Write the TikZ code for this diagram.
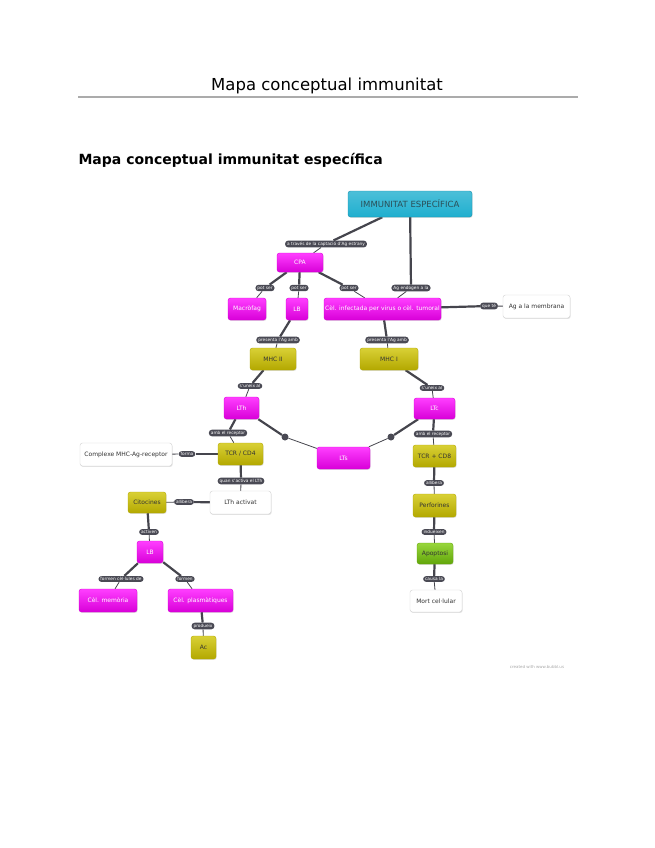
\documentclass[tikz,border=0pt]{standalone}
\usepackage{fontspec}
\setmainfont{DejaVu Sans}
\usetikzlibrary{backgrounds,shadows}
\definecolor{mapink}{HTML}{333333}
\definecolor{maprule}{HTML}{ABABAB}
\definecolor{mapline}{HTML}{45454D}
\definecolor{mappill}{HTML}{4A4A54}
\definecolor{mapcyan}{HTML}{1FAFCF}
\definecolor{mapcyandk}{HTML}{1690AD}
\definecolor{maprosa}{HTML}{FF1CFF}
\definecolor{maprosadk}{HTML}{D800D8}
\definecolor{mapgroc}{HTML}{D2C812}
\definecolor{mapgrocdk}{HTML}{B3A800}
\definecolor{mapverd}{HTML}{86CF1A}
\definecolor{mapverddk}{HTML}{62A60A}
\newcommand{\enllac}[3]{%
  \draw[mapline, line width=2.2pt] (#1) -- (#2);
  \draw[mapline, line width=0.8pt] (#2) -- (#3);
}
\tikzset{
  caixa/.style={rounded corners=2.5pt, inner sep=1pt, line width=0.4pt,
    font=\fontsize{6}{7}\selectfont,
    drop shadow={opacity=0.25, shadow xshift=0.6pt, shadow yshift=-0.9pt}},
  blau/.style={caixa, draw=mapcyandk, top color=mapcyan!80!white, bottom color=mapcyan,
    text=mapink!70!mapcyandk, font=\fontsize{8.5}{10}\selectfont},
  rosa/.style={caixa, draw=maprosadk, top color=maprosa!85!white, bottom color=maprosadk, text=white},
  groc/.style={caixa, draw=mapgrocdk, top color=mapgroc!85!white, bottom color=mapgrocdk, text=mapink},
  verd/.style={caixa, draw=mapverddk, top color=mapverd!85!white, bottom color=mapverddk, text=mapink},
  blanc/.style={caixa, draw=black!18, fill=white, text=mapink},
  etiqueta/.style={rounded corners=3pt, fill=mappill, text=white, inner xsep=2pt,
    inner ysep=1.2pt, font=\fontsize{4.3}{5}\selectfont},
  punt/.style={circle, fill=mappill, inner sep=0pt, minimum size=7pt},
}
\begin{document}
\begin{tikzpicture}[x=1pt, y=-1pt]
  \useasboundingbox (0,0) rectangle (655,848);

  % capcalera
  \node[text=black, font=\fontsize{16.5}{19}\selectfont] (titol) at (327,86) {Mapa conceptual immunitat};
  \draw[maprule, line width=2pt] (78,97) -- (578,97);
  \node[text=black, anchor=west, font=\fontsize{14}{16}\selectfont\bfseries] (apartat) at (75,160) {Mapa conceptual immunitat específica};

  % caixes
  \node[blau, minimum width=124pt, minimum height=26pt] (imm) at (410,204) {IMMUNITAT ESPECÍFICA};
  \node[rosa, minimum width=46pt, minimum height=19pt] (cpa) at (300,262.5) {CPA};
  \node[rosa, minimum width=38pt, minimum height=22pt] (macro) at (247,309) {Macròfag};
  \node[rosa, minimum width=22pt, minimum height=22pt] (lbu) at (297,309) {LB};
  \node[rosa, minimum width=117pt, minimum height=22pt] (celinf) at (382.5,309) {Cèl. infectada per virus o cèl. tumoral};
  \node[blanc, minimum width=67pt, minimum height=23pt] (agmem) at (536.5,306.5) {Ag a la membrana};
  \node[groc, minimum width=46pt, minimum height=22pt] (mhcdos) at (273,359) {MHC II};
  \node[groc, minimum width=58pt, minimum height=22pt] (mhcu) at (389,359) {MHC I};
  \node[rosa, minimum width=35pt, minimum height=22pt] (lth) at (241.5,408) {LTh};
  \node[rosa, minimum width=41pt, minimum height=21pt] (ltc) at (434.5,408.5) {LTc};
  \node[groc, minimum width=45pt, minimum height=22pt] (tcrq) at (240.5,454) {TCR / CD4};
  \node[blanc, minimum width=92pt, minimum height=23pt] (complexe) at (126,454.5) {Complexe MHC-Ag-receptor};
  \node[blanc, minimum width=61pt, minimum height=23pt] (lthact) at (240.5,502.5) {LTh activat};
  \node[groc, minimum width=38pt, minimum height=21pt] (cito) at (147,502.5) {Citocines};
  \node[rosa, minimum width=26pt, minimum height=22pt] (lbd) at (150,552) {LB};
  \node[rosa, minimum width=58pt, minimum height=23pt] (celmem) at (108,600.5) {Cèl. memòria};
  \node[rosa, minimum width=65pt, minimum height=23pt] (celpla) at (200.5,600.5) {Cèl. plasmàtiques};
  \node[groc, minimum width=25pt, minimum height=23pt] (ac) at (203.5,647.5) {Ac};
  \node[rosa, minimum width=53pt, minimum height=22pt] (lts) at (343.5,458) {LTs};
  \node[groc, minimum width=43pt, minimum height=22pt] (tcrv) at (434.5,456) {TCR + CD8};
  \node[groc, minimum width=43pt, minimum height=23pt] (perf) at (434.5,505.5) {Perforines};
  \node[verd, minimum width=36pt, minimum height=21pt] (apop) at (435,553.5) {Apoptosi};
  \node[blanc, minimum width=52pt, minimum height=22pt] (mort) at (436,601) {Mort cel·lular};

  % etiquetes
  \node[etiqueta] (eaa) at (326,244) {a través de la captació d'Ag estrany};
  \node[etiqueta] (eab) at (265,288) {pot ser};
  \node[etiqueta] (eac) at (299,288) {pot ser};
  \node[etiqueta] (ead) at (349,288) {pot ser};
  \node[etiqueta] (eae) at (411,288) {Ag endogen a la};
  \node[etiqueta] (eaf) at (489,306) {que té};
  \node[etiqueta] (eag) at (278,340) {presenta l'Ag amb};
  \node[etiqueta] (eah) at (387,340) {presenta l'Ag amb};
  \node[etiqueta] (eai) at (250,386) {s'uneix al};
  \node[etiqueta] (eaj) at (432,388) {s'uneix al};
  \node[etiqueta] (eak) at (228,433) {amb el receptor};
  \node[etiqueta] (eal) at (187,454) {forma};
  \node[etiqueta] (eam) at (241,481) {quan s'activa el LTh};
  \node[etiqueta] (ean) at (184,502) {allibera};
  \node[etiqueta] (eao) at (149,532) {activen};
  \node[etiqueta] (eap) at (121,579) {formen cèl·lules de};
  \node[etiqueta] (eaq) at (185,579) {formen};
  \node[etiqueta] (ear) at (203,626) {produeix};
  \node[etiqueta] (eas) at (433,434) {amb el receptor};
  \node[etiqueta] (eat) at (434,483) {allibera};
  \node[etiqueta] (eau) at (434,532) {indueixen};
  \node[etiqueta] (eav) at (434,579) {causa la};
  \node[punt] (pta) at (285,437) {};
  \node[punt] (ptb) at (391,437) {};

  % connexions
  \begin{pgfonlayer}{background}
    \enllac{imm}{eaa}{cpa}
    \enllac{cpa}{eab}{macro}
    \enllac{cpa}{eac}{lbu}
    \enllac{cpa}{ead}{celinf}
    \enllac{imm}{eae}{celinf}
    \enllac{celinf}{eaf}{agmem}
    \enllac{lbu}{eag}{mhcdos}
    \enllac{celinf}{eah}{mhcu}
    \enllac{mhcdos}{eai}{lth}
    \enllac{mhcu}{eaj}{ltc}
    \enllac{lth}{eak}{tcrq}
    \enllac{tcrq}{eal}{complexe}
    \enllac{tcrq}{eam}{lthact}
    \enllac{lthact}{ean}{cito}
    \enllac{cito}{eao}{lbd}
    \enllac{lbd}{eap}{celmem}
    \enllac{lbd}{eaq}{celpla}
    \enllac{celpla}{ear}{ac}
    \enllac{lth}{pta}{lts}
    \enllac{ltc}{ptb}{lts}
    \enllac{ltc}{eas}{tcrv}
    \enllac{tcrv}{eat}{perf}
    \enllac{perf}{eau}{apop}
    \enllac{apop}{eav}{mort}
  \end{pgfonlayer}

  \node[text=black!35, font=\fontsize{4}{5}\selectfont] (peu) at (537,667) {created with www.bubbl.us};

\end{tikzpicture}
\end{document}
